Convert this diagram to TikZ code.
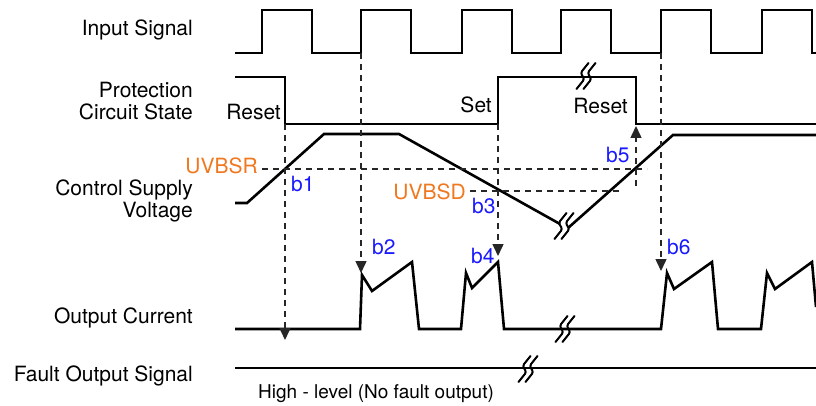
\documentclass[tikz,border=0pt]{standalone}
\usepackage{fontspec}
\setsansfont{TeX Gyre Heros}
\usetikzlibrary{arrows.meta}
\definecolor{uvorange}{RGB}{240,120,30}
\definecolor{markblue}{RGB}{25,25,255}

\begin{document}
\begin{tikzpicture}[
  x=1pt, y=-1pt,
  font=\sffamily\fontsize{21pt}{23pt}\selectfont,
  >={Triangle[length=12pt,width=11pt]},
  wave/.style={line width=2.6pt},
  guide/.style={line width=1.5pt, dash pattern=on 6pt off 5pt, black!85},
  rowlabel/.style={anchor=base east, inner sep=0pt},
  levellabel/.style={anchor=base east, inner sep=0pt, text=uvorange},
  pointlabel/.style={anchor=base west, inner sep=0pt, text=markblue},
  breakmark/.pic={
    \foreach \dx in {-3.5,3.5}
      \draw[line width=2pt, line cap=round, rounded corners=2.5pt] (\dx+6,-13) -- (\dx-2,-3) -- (\dx+2,3) -- (\dx-6,13);
  }
]
  \useasboundingbox (0,0) rectangle (816,406);

  % ---------------------------------------------------------------------------
  % ROW LABELS
  % ---------------------------------------------------------------------------
  \node[rowlabel] (lblin) at (193,36) {Input Signal};
  \node[rowlabel] (lblprot) at (193,98) {Protection};
  \node[rowlabel] (lblprotb) at (193,120) {Circuit State};
  \node[rowlabel] (lblvcc) at (193,196) {Control Supply};
  \node[rowlabel] (lblvccb) at (193,218) {Voltage};
  \node[rowlabel] (lblout) at (193,323) {Output Current};
  \node[rowlabel] (lblfo) at (193,381) {Fault Output Signal};

  % ---------------------------------------------------------------------------
  % INPUT SIGNAL
  % ---------------------------------------------------------------------------
  \draw[wave] (235,53) \foreach \r in {262,361,462,561,661,762} { -- (\r,53) -- (\r,10) -- (\r+50,10) -- (\r+50,53) } -- (816,53);
  \coordinate (in2) at (361,53);
  \coordinate (in6) at (661,53);

  % ---------------------------------------------------------------------------
  % PROTECTION CIRCUIT STATE
  % ---------------------------------------------------------------------------
  \draw[wave] (235,77) -- (285,77) -- (285,124) coordinate (rstA) -- (498,124) coordinate (setA)
    -- (498,77) -- (636,77) -- (636,124) -- (816,124);
  \pic at (586,76) {breakmark};
  \node[rowlabel] (rst1) at (281,120) {Reset};
  \node[rowlabel] (setlbl) at (492,113) {Set};
  \node[rowlabel] (rst2) at (628,114) {Reset};

  % ---------------------------------------------------------------------------
  % CONTROL SUPPLY VOLTAGE
  % ---------------------------------------------------------------------------
  \draw[wave] (235,203) -- (247,203) -- (324,134) -- (399,134) -- (560,224);
  \draw[wave] (568,228) -- (673,135) -- (816,135);
  \pic at (564,226) {breakmark};

  \node[levellabel] (uvbsr) at (258,174) {UVBSR};
  \node[levellabel] (uvbsd) at (466,200) {UVBSD};
  \coordinate (uvrA) at (262,169);
  \coordinate (uvrB) at (647,169);
  \coordinate (uvdA) at (470,191);
  \coordinate (uvdB) at (623,191);
  \draw[guide] (uvrA) -- (uvrB);
  \draw[guide] (uvdA) -- (uvdB);

  % ---------------------------------------------------------------------------
  % OUTPUT CURRENT
  % ---------------------------------------------------------------------------
  \draw[wave] (235,329) -- (360,329) -- (362,275) -- (372,291) -- (412,262) -- (419,329)
    -- (461,329) -- (466,273) -- (472,288) -- (498,262) -- (504,329)
    -- (661,329) -- (667,273) -- (674,289) -- (712,262) -- (718,329)
    -- (761,329) -- (767,273) -- (775,289) -- (812,262) -- (816,307);
  \pic at (565,329) {breakmark};

  % ---------------------------------------------------------------------------
  % FAULT OUTPUT SIGNAL
  % ---------------------------------------------------------------------------
  \draw[wave] (235,368) -- (816,368);
  \pic at (528,369) {breakmark};
  \node[anchor=base west, inner sep=0pt, font=\sffamily\fontsize{19pt}{21pt}\selectfont] (hilvl) at (258,398) {High - level (No fault output)};

  % ---------------------------------------------------------------------------
  % TIMING GUIDES
  % ---------------------------------------------------------------------------
  \coordinate (b1tip) at (285,340);
  \coordinate (b2tip) at (361,273);
  \coordinate (b4tip) at (498,256);
  \coordinate (b5foot) at (636,186);
  \coordinate (b5tip) at (636,126);
  \coordinate (b6tip) at (661,271);

  \draw[guide, ->] (rstA) -- (b1tip);
  \draw[guide, ->] (in2) -- (b2tip);
  \draw[guide, ->] (setA) -- (b4tip);
  \draw[guide, ->] (b5foot) -- (b5tip);
  \draw[guide, ->] (in6) -- (b6tip);

  \node[pointlabel] (b1) at (291,192) {b1};
  \node[pointlabel] (b2) at (372,254) {b2};
  \node[pointlabel] (b3) at (472,213) {b3};
  \node[pointlabel] (b4) at (471,263) {b4};
  \node[pointlabel] (b5) at (606,163) {b5};
  \node[pointlabel] (b6) at (667,254) {b6};

\end{tikzpicture}
\end{document}
